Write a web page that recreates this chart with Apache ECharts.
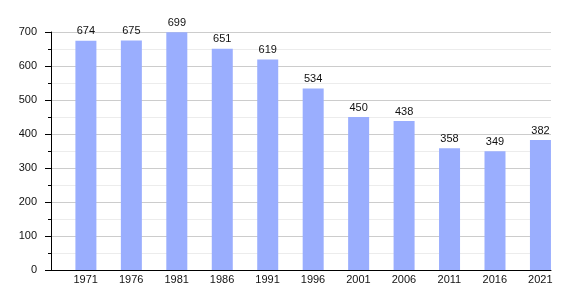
<!DOCTYPE html>
<html>
<head>
<meta charset="utf-8">
<script src="https://cdn.jsdelivr.net/npm/echarts@6/dist/echarts.min.js"></script>
<style>html,body{margin:0;padding:0;background:#fff}#c{width:580px;height:300px}</style>
</head>
<body>
<div id="c"></div>
<script>
const years = ['1971','1976','1981','1986','1991','1996','2001','2006','2011','2016','2021'];
const population = [674, 675, 699, 651, 619, 534, 450, 438, 358, 349, 382];
const yTicks = [0, 100, 200, 300, 400, 500, 600, 700];

const chart = echarts.init(document.getElementById('c'), null, {renderer: 'canvas'});
const font = 'Liberation Sans, Arial, sans-serif';
chart.setOption({
  animation: false,
  grid: {left: 51, right: 29, top: 32, bottom: 30, containLabel: false},
  xAxis: {
    type: 'category',
    data: years,
    boundaryGap: true,
    axisLine: {show: true, lineStyle: {color: '#000', width: 1}},
    axisTick: {show: false},
    axisLabel: {
      interval: 0,
      hideOverlap: false,
      margin: 4,
      formatter: v => '{a|' + v + '}',
      rich: {a: {fontFamily: font, fontSize: 11, color: '#111', padding: [0, 0, 0, 24]}}
    },
    splitLine: {show: false}
  },
  yAxis: {
    type: 'value',
    min: yTicks[0],
    max: yTicks[yTicks.length - 1],
    interval: 100,
    axisLine: {show: true, lineStyle: {color: '#000', width: 1}},
    axisTick: {show: true, inside: false, length: 6, lineStyle: {color: '#000'}},
    minorTick: {show: true, splitNumber: 2, length: 3, lineStyle: {color: '#000'}},
    axisLabel: {margin: 14, fontFamily: font, fontSize: 11, color: '#111'},
    splitLine: {show: true, lineStyle: {color: '#cccccc', width: 1}},
    minorSplitLine: {show: true, lineStyle: {color: '#ececec', width: 1}}
  },
  series: [
    {
      type: 'bar',
      data: years.map(() => '-'),
      barWidth: 21,
      barGap: '16%',
      silent: true
    },
    {
      type: 'bar',
      data: population,
      barWidth: 21,
      barGap: '16%',
      itemStyle: {color: '#9aaefe'},
      label: {show: true, position: 'top', distance: 4, fontFamily: font, fontSize: 11, color: '#111'}
    }
  ]
});
</script>
</body>
</html>
